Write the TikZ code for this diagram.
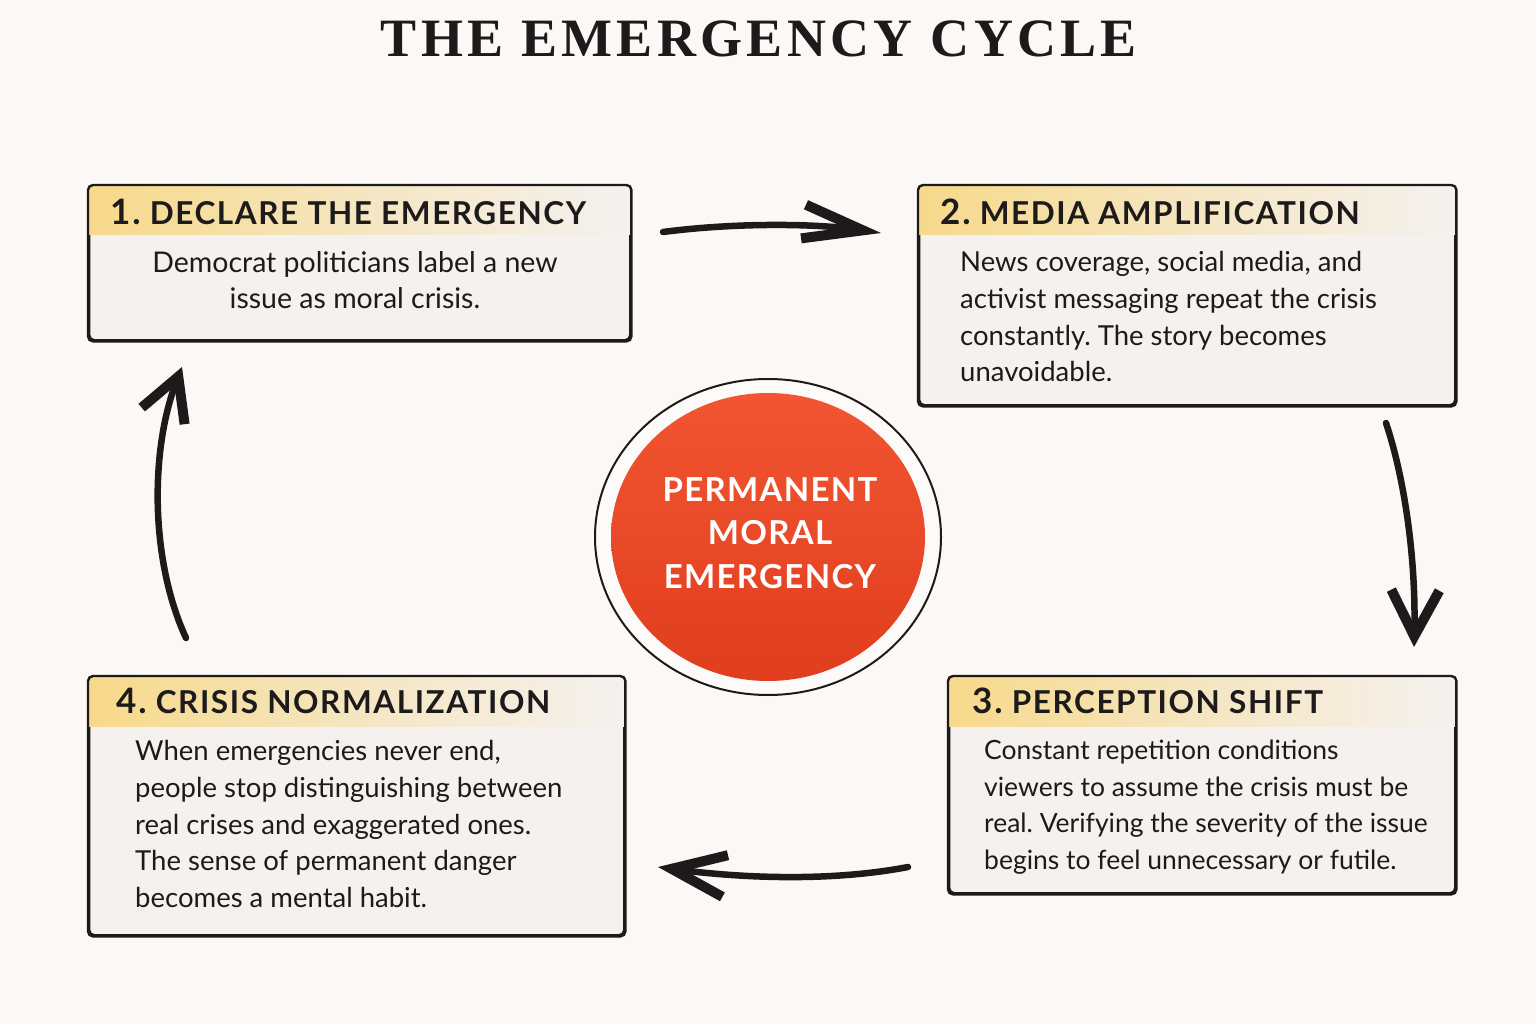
\documentclass[tikz,border=0pt]{standalone}
\usepackage{fontspec}
\setmainfont{Lato}
\newfontfamily\titlefont[LetterSpace=8]{Liberation Serif}
\usetikzlibrary{arrows.meta,shapes.geometric}
\definecolor{bgc}{HTML}{FBF8F6}
\definecolor{boxfill}{HTML}{F4F1EF}
\definecolor{hdrc}{HTML}{F7D98A}
\definecolor{inkc}{HTML}{1C1A1A}
\definecolor{redtop}{HTML}{F25532}
\definecolor{redbot}{HTML}{E03E1E}
\tikzset{
  cbox/.style={draw=inkc, line width=2.4pt, rounded corners=5pt, fill=boxfill, inner sep=0pt, anchor=north west},
  hdrtext/.style={anchor=west, inner sep=0pt, font=\fontsize{31.5}{34}\selectfont\bfseries\addfontfeature{LetterSpace=5}, text=inkc},
  bodytext/.style={inner sep=0pt, font=\fontsize{27.5}{36.8}\selectfont, text=inkc},
  cyc/.style={draw=inkc, line width=6.5pt, line cap=round},
}
\newcommand{\hdrband}[1]{%
  \begin{scope}
    \clip[rounded corners=5pt] (#1.north west) rectangle (#1.south east);
    \shade[left color=hdrc, right color=boxfill, middle color=hdrc!45!boxfill] (#1.north west) rectangle ([yshift=-50pt]#1.north east);
  \end{scope}
  \draw[draw=inkc, line width=2.4pt, rounded corners=5pt] (#1.north west) rectangle (#1.south east);
}
\newcommand{\hnum}[1]{{\fontsize{35}{36}\selectfont #1}}
\begin{document}
\frenchspacing
\begin{tikzpicture}[x=1pt,y=-1pt]
\fill[bgc] (0,0) rectangle (1536,1024);
\useasboundingbox (0,0) rectangle (1536,1024);

% title
\node[inner sep=0pt, text=inkc, font=\titlefont\fontsize{54}{60}\selectfont\bfseries] (title) at (759,39) {THE EMERGENCY CYCLE};

% boxes
\node[cbox, minimum width=541pt, minimum height=154pt] (b1) at (88,185) {};
\hdrband{b1}
\node[cbox, minimum width=536pt, minimum height=219pt] (b2) at (918,185) {};
\hdrband{b2}
\node[cbox, minimum width=506pt, minimum height=216pt] (b3) at (948,676) {};
\hdrband{b3}
\node[cbox, minimum width=535pt, minimum height=258pt] (b4) at (88,676) {};
\hdrband{b4}

% headers
\node[hdrtext] (h1) at (110,212) {\hnum{1.} DECLARE THE EMERGENCY};
\node[hdrtext] (h2) at (940,212) {\hnum{2.} MEDIA AMPLIFICATION};
\node[hdrtext] (h3) at (972,701) {\hnum{3.} PERCEPTION SHIFT};
\node[hdrtext] (h4) at (116,701) {\hnum{4.} CRISIS NORMALIZATION};

% bodies
\node[bodytext, align=center, anchor=north, font=\fontsize{28.5}{36.5}\selectfont] (t1) at (355,251) {Democrat politicians label a new\\issue as moral crisis.};
\node[bodytext, align=left, anchor=north west] (t2) at (960,251) {News coverage, social media, and\\activist messaging repeat the crisis\\constantly. The story becomes\\unavoidable.};
\node[bodytext, align=left, anchor=north west, font=\fontsize{26.5}{36.5}\selectfont] (t3) at (984,740) {Constant repetition conditions\\viewers to assume the crisis must be\\real. Verifying the severity of the issue\\begins to feel unnecessary or futile.};
\node[bodytext, align=left, anchor=north west] (t4) at (135,740) {When emergencies never end,\\people stop distinguishing between\\real crises and exaggerated ones.\\The sense of permanent danger\\becomes a mental habit.};

% central circle
\node[ellipse, draw=inkc, line width=2pt, fill=white!50!bgc, minimum width=346pt, minimum height=316pt, inner sep=0pt] (ring) at (768,537) {};
\node[ellipse, top color=redtop, bottom color=redbot, minimum width=314pt, minimum height=288pt, inner sep=0pt] (core) at (768,537) {};
\node[inner sep=0pt, align=center, text=white, font=\fontsize{33}{43.5}\selectfont\bfseries\addfontfeature{LetterSpace=4}] (coretext) at (770,533) {PERMANENT\\MORAL\\EMERGENCY};

% connectors
\coordinate (a1s) at (663,232);
\coordinate (a1e) at (881,233);
\coordinate (a2s) at (1386,423);
\coordinate (a2e) at (1414,647);
\coordinate (a3s) at (908,867);
\coordinate (a3e) at (658,867);
\coordinate (a4s) at (186,638);
\coordinate (a4e) at (182,367);
\draw[cyc, -{Straight Barb[length=60pt,width=34pt,line width=10pt]}] (a1s) .. controls (740,222) and (820,224) .. (a1e);
\draw[cyc, -{Straight Barb[length=46pt,width=48pt,line width=10pt]}] (a2s) .. controls (1405,480) and (1416,560) .. (a2e);
\draw[cyc, -{Straight Barb[length=54pt,width=42pt,line width=10pt]}] (a3s) .. controls (830,882) and (740,878) .. (a3e);
\draw[cyc, -{Straight Barb[length=42pt,width=46pt,line width=10pt]}] (a4s) .. controls (150,560) and (150,450) .. (a4e);
\end{tikzpicture}
\end{document}
